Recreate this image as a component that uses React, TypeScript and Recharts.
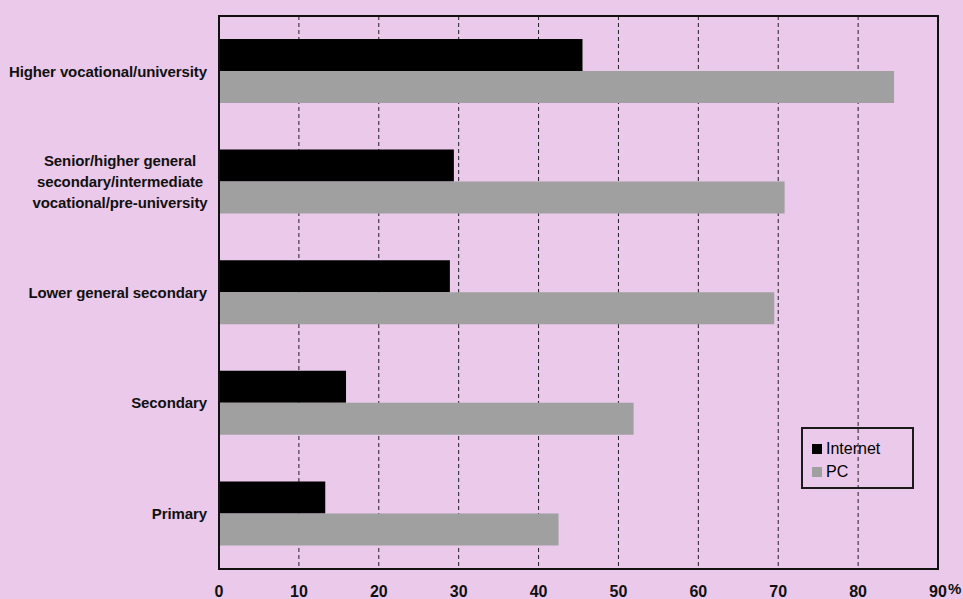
import React from 'react';
import { BarChart, Bar, XAxis, YAxis, CartesianGrid, Legend, ReferenceArea } from 'recharts';

const categories = [
  'Higher vocational/university',
  'Senior/higher general\nsecondary/intermediate\nvocational/pre-university',
  'Lower general secondary',
  'Secondary',
  'Primary',
];
const internet = [45.5, 29.4, 28.9, 15.9, 13.3];
const pc = [84.5, 70.8, 69.5, 51.9, 42.5];
const xTicks = [0, 10, 20, 30, 40, 50, 60, 70, 80, 90];
const seriesNames = { internet: 'Internet', pc: 'PC' };

const data = categories.map((name, i) => ({ name, internet: internet[i], pc: pc[i] }));

const BG = '#EAC9EA';
const FONT = '"Liberation Sans", Arial, Helvetica, sans-serif';

const YTick = (props: any) => {
  const { x, y, payload } = props;
  const lines = String(payload.value).split('\n');
  const lh = 21;
  const multi = lines.length > 1;
  const tx = multi ? x - 87 : x;
  const start = y - ((lines.length - 1) * lh) / 2;
  return (
    <text
      x={tx}
      y={start}
      textAnchor={multi ? 'middle' : 'end'}
      fontFamily={FONT}
      fontSize={15}
      fontWeight="bold"
      letterSpacing={-0.1}
      fill="#111"
    >
      {lines.map((l, i) => (
        <tspan key={i} x={tx} y={start + i * lh} dy="0.35em">
          {l}
        </tspan>
      ))}
    </text>
  );
};

const XTick = (props: any) => {
  const { x, y, payload } = props;
  const v = payload.value;
  return (
    <g>
      <text
        x={x}
        y={y + 28}
        textAnchor="middle"
        fontFamily={FONT}
        fontSize={16}
        fontWeight="bold"
        fill="#111"
      >
        {v}
      </text>
      {v === 90 ? (
        <text x={x + 10} y={y + 25} textAnchor="start" fontFamily={FONT} fontSize={15} fontWeight="bold" fill="#111">
          %
        </text>
      ) : null}
    </g>
  );
};

const LegendBox = () => (
  <div
    style={{
      boxSizing: 'border-box',
      width: 113,
      height: 62,
      border: '2px solid #1a1a1a',
      fontFamily: FONT,
      fontSize: 16,
      color: '#000',
      paddingLeft: 9,
      paddingTop: 8,
    }}
  >
    <div style={{ display: 'flex', alignItems: 'center', height: 23 }}>
      <span style={{ display: 'inline-block', width: 10, height: 10, background: '#000', marginRight: 4 }} />
      <span>{seriesNames.internet}</span>
    </div>
    <div style={{ display: 'flex', alignItems: 'center', height: 23 }}>
      <span style={{ display: 'inline-block', width: 10, height: 10, background: '#A0A0A0', marginRight: 4 }} />
      <span>{seriesNames.pc}</span>
    </div>
  </div>
);

export default function App() {
  return (
    <div style={{ position: 'absolute', left: 0, top: 0, width: 963, height: 599, background: BG }}>
      <BarChart
        width={963}
        height={599}
        data={data}
        layout="vertical"
        margin={{ top: 16, right: 25, bottom: 0, left: 0 }}
        barGap={0}
        barCategoryGap="21%"
      >
        <CartesianGrid horizontal={false} vertical={true} stroke="#222" strokeDasharray="4 3" />
        <XAxis
          type="number"
          dataKey="internet"
          domain={[0, 90]}
          ticks={xTicks}
          interval={0}
          height={30}
          tickSize={0}
          tickMargin={0}
          tickLine={false}
          axisLine={{ stroke: '#111', strokeWidth: 2 }}
          tick={<XTick />}
        />
        <YAxis
          type="category"
          dataKey="name"
          width={219}
          tickSize={0}
          tickMargin={12}
          tickLine={false}
          interval={0}
          axisLine={{ stroke: '#111', strokeWidth: 2 }}
          tick={<YTick />}
        />
        <Legend
          layout="vertical"
          align="center"
          verticalAlign="middle"
          content={<LegendBox />}
          wrapperStyle={{ position: 'absolute', left: 801, top: 427, width: 113, height: 62 }}
        />
        <Bar dataKey="internet" name={seriesNames.internet} fill="#000" barSize={32} isAnimationActive={false} />
        <Bar dataKey="pc" name={seriesNames.pc} fill="#A0A0A0" barSize={32} isAnimationActive={false} />
        <ReferenceArea x1={0} x2={90} fill="none" fillOpacity={0} stroke="#111" strokeWidth={2} ifOverflow="visible" />
      </BarChart>
    </div>
  );
}
